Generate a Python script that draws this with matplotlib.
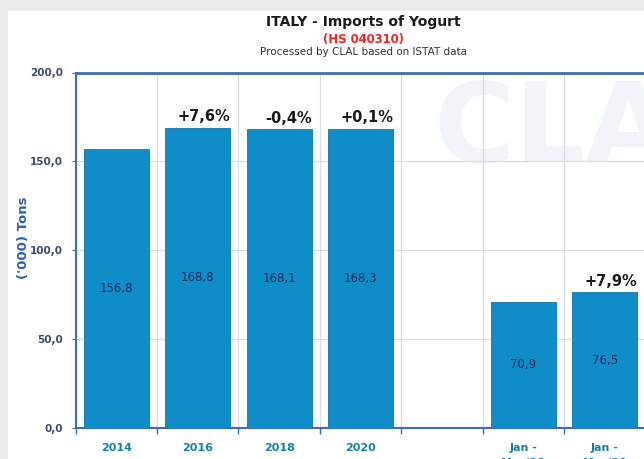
import matplotlib
matplotlib.use("Agg")
import matplotlib.pyplot as plt
from matplotlib.patches import Rectangle

# ---- data ----
categories = ["2014", "2016", "2018", "2020", "", "Jan -\nMay'20", "Jan -\nMay'21"]
values = [156.8, 168.8, 168.1, 168.3, None, 70.9, 76.5]
value_labels = ["156,8", "168,8", "168,1", "168,3", "", "70,9", "76,5"]
pct_labels = ["", "+7,6%", "-0,4%", "+0,1%", "", "", "+7,9%"]
y_ticks = [0, 50, 100, 150, 200]
y_tick_labels = ["0,0", "50,0", "100,0", "150,0", "200,0"]

W, H = 644, 459
fig = plt.figure(figsize=(W / 100, H / 100), dpi=100)
fig.patch.set_facecolor("#ebebea")
# white panel
fig.patches.append(Rectangle((7.5 / W, 0), 1, 1 - 10.5 / H, transform=fig.transFigure,
                             facecolor="white", edgecolor="none", zorder=-10))

left, right, top, bottom = 75.5, 645.5, 72.5, 428.0
ax = fig.add_axes([left / W, 1 - bottom / H, (right - left) / W, (bottom - top) / H])
ax.set_facecolor("none")

bar_color = "#0f8dc9"
bw = 0.8
xs = list(range(len(categories)))
for x, v, vl, pl in zip(xs, values, value_labels, pct_labels):
    if v is None:
        continue
    ax.bar(x, v, width=bw, color=bar_color, edgecolor="#0b78ad", linewidth=0.6, zorder=3)
    ax.text(x, v / 2, vl, ha="center", va="center", fontsize=8.5, color="#1c2b55", zorder=4)
    if pl:
        ax.annotate(pl, xy=(x + bw / 2, v), xytext=(0, 2.5), textcoords="offset points",
                    ha="right", va="bottom", fontsize=10.5, fontweight="bold",
                    color="#1a1a1a", zorder=4)

ax.set_xlim(-0.5, len(categories) - 0.5)
ax.set_ylim(0, 200)

# watermark
ax.text(3.9, 197, "CLAL", ha="left", va="top", fontsize=80, fontweight="bold",
        color="#f1f4f9", zorder=0.5)

# grid / ticks
bounds = [i - 0.5 for i in range(len(categories) + 1)]
ax.set_xticks(bounds)
ax.set_xticklabels([])
ax.set_xticks(xs, minor=True)
ax.set_xticklabels(categories, minor=True, fontsize=8, fontweight="bold",
                   color="#17809b", linespacing=1.55)
ax.tick_params(axis="x", which="major", length=4, color="#3c6fb4", width=1)
ax.tick_params(axis="x", which="minor", length=0, pad=11)
ax.set_yticks(y_ticks)
ax.set_yticklabels(y_tick_labels, fontsize=7.5, fontweight="bold", color="#3d4a6e")
ax.tick_params(axis="y", length=3, color="#3c6fb4", pad=6)
ax.grid(True, which="major", axis="both", color="#dcdcdc", linewidth=0.9, zorder=1)
ax.set_axisbelow(True)

for s in ["left", "top", "bottom"]:
    ax.spines[s].set_color("#3c6fb4")
ax.spines["left"].set_linewidth(1.5)
ax.spines["top"].set_linewidth(2)
ax.spines["bottom"].set_linewidth(1.5)
ax.spines["right"].set_visible(False)

fig.text(24 / W, 1 - 238 / H, "('000) Tons", rotation=90, ha="center", va="center",
         fontsize=9.5, fontweight="bold", color="#2f62a8")

cx = 363 / W
fig.text(cx, 1 - 21.7 / H, "ITALY - Imports of Yogurt", ha="center", va="center",
         fontsize=10, fontweight="bold", color="#1a1a1a")
fig.text(cx, 1 - 40 / H, "(HS 040310)", ha="center", va="center",
         fontsize=8.4, fontweight="bold", color="#ff2020")
fig.text(cx, 1 - 51.7 / H, "Processed by CLAL based on ISTAT data", ha="center", va="center",
         fontsize=7.5, color="#333333")

fig.savefig("out.png", dpi=100, facecolor=fig.get_facecolor())
